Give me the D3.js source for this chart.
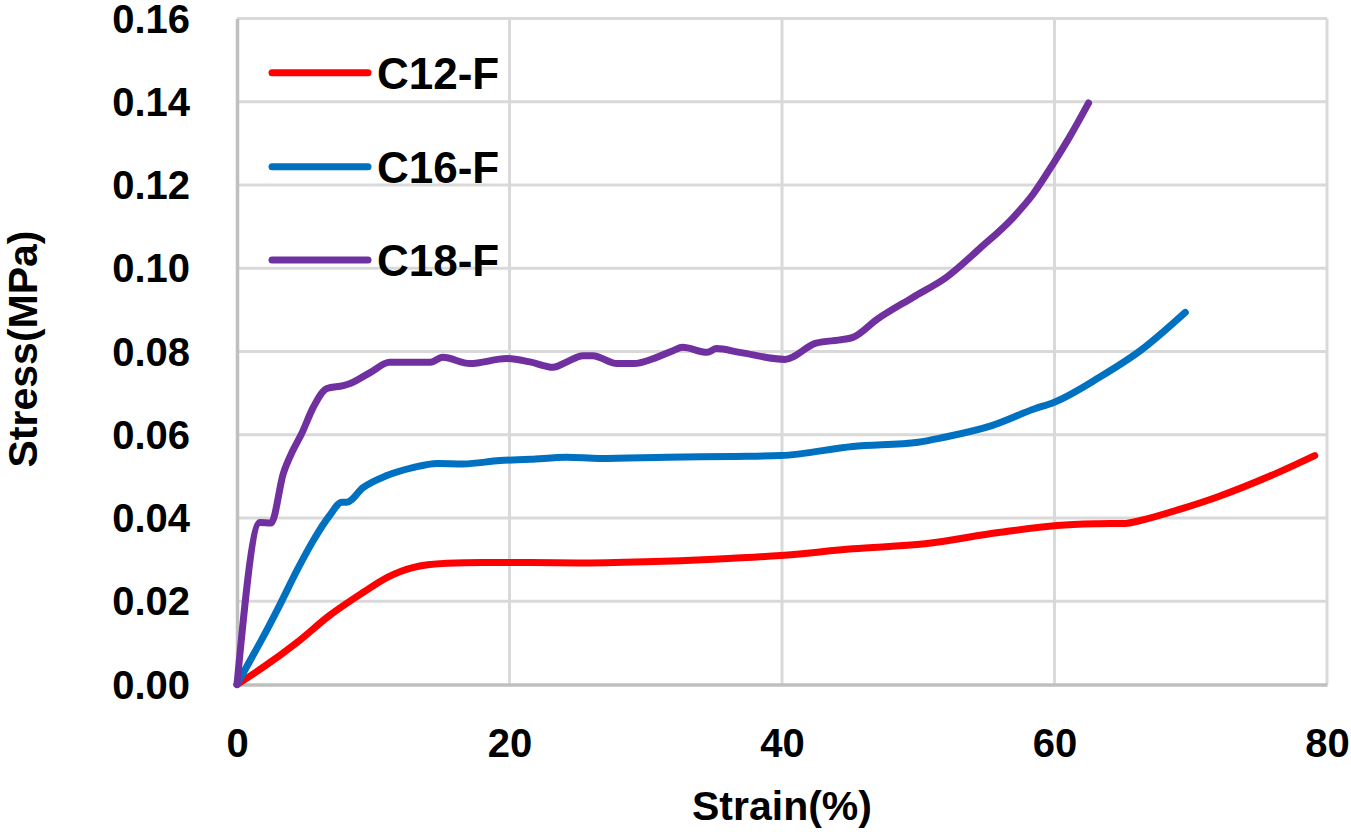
<!DOCTYPE html>
<html>
<head>
<meta charset="utf-8">
<script src="https://cdn.jsdelivr.net/npm/d3@7"></script>
<style>
  body { margin: 0; background: #fff; }
  svg text { font-family: "Liberation Sans", Arial, sans-serif; font-weight: bold; fill: #000; }
</style>
</head>
<body>
<div id="chart"></div>
<script>
// Data
//

var x_ticks = [0, 20, 40, 60, 80];
var y_ticks = [0, 0.02, 0.04, 0.06, 0.08, 0.10, 0.12, 0.14, 0.16];

var series_names = ["C12-F", "C16-F", "C18-F"];
var series_colors = ["#ff0000", "#0070c0", "#7030a0"];

var c12_strain = [0, 1.9, 4.4, 6.8, 9.25, 11, 12.9, 15.4, 18, 21.5, 25, 30, 35, 39.9,
  45.2, 50.5, 55.9, 60.2, 63, 65.2, 66.3, 69.3, 71.9, 75.9, 79.1];
var c12_stress = [0, 0.0041, 0.0101, 0.0166, 0.0221, 0.0257, 0.0281, 0.0291, 0.0293, 0.0293,
  0.0292, 0.0295, 0.0301, 0.031, 0.0326, 0.0338, 0.0365, 0.0382, 0.0386, 0.0387, 0.0394,
  0.0422, 0.045, 0.0502, 0.055];

var c16_strain = [0, 0.7, 1.9, 3.2, 4.4, 5.6, 6.8, 7.7, 8.05, 9.25, 11, 12.9, 14.7, 16.6,
  19.3, 21.5, 24.2, 26.6, 31.6, 36.4, 39.9, 45.2, 50, 51.9, 55.4, 58.6, 59.9, 63.3, 66.3, 69.6];
var c16_stress = [0, 0.0042, 0.0113, 0.0195, 0.0274, 0.0346, 0.0406, 0.0438, 0.0438, 0.0473,
  0.0502, 0.0521, 0.0531, 0.053, 0.0538, 0.0541, 0.0546, 0.0543, 0.0546, 0.0548, 0.055,
  0.0572, 0.0582, 0.0594, 0.0622, 0.0663, 0.0677, 0.0738, 0.0802, 0.0894];

var c18_strain = [0, 1.69, 2.5, 3.4, 4.1, 4.75, 5.6, 6.6, 7.8, 8.3, 9.8, 11.2, 14.2, 15.1,
  17.1, 19.8, 21.5, 23.2, 24.2, 25.4, 26.1, 27.9, 29.1, 30.8, 32, 32.7, 34.5, 35.2, 36.9,
  40.2, 42.5, 44.5, 45.2, 47, 49.6, 52.1, 54.5, 57, 58.45, 59.9, 61.1, 62.5];
var c18_stress = [0, 0.0389, 0.0388, 0.0507, 0.0562, 0.0603, 0.0666, 0.0711, 0.0718, 0.0723,
  0.075, 0.0774, 0.0774, 0.0786, 0.0771, 0.0783, 0.0775, 0.0762, 0.0775, 0.079, 0.079,
  0.0771, 0.0771, 0.0786, 0.0802, 0.081, 0.0798, 0.0807, 0.0798, 0.0781, 0.082, 0.0829,
  0.0834, 0.0878, 0.093, 0.0979, 0.1047, 0.1123, 0.1179, 0.1251, 0.1315, 0.1397];

// Helper functions
//

function zip_points(xs, ys) {
  // returns [[x, y], ...]
  return xs.map(function(x, i) { return [x, ys[i]]; });
}

// Chart
//

var width = 1351;
var height = 832;

var series = [
  { name: series_names[0], color: series_colors[0], points: zip_points(c12_strain, c12_stress) },
  { name: series_names[1], color: series_colors[1], points: zip_points(c16_strain, c16_stress) },
  { name: series_names[2], color: series_colors[2], points: zip_points(c18_strain, c18_stress) }
];

var svg = d3.select("#chart").append("svg")
  .attr("width", width)
  .attr("height", height);

var x_scale = d3.scaleLinear()
  .domain([0, 80])
  .range([237, 1327]);

var y_scale = d3.scaleLinear()
  .domain([0, 0.16])
  .range([684.5, 18.5]);

// grid lines
var grid = svg.append("g");
grid.selectAll("line.h")
  .data(y_ticks.slice(1))
  .enter().append("line")
  .attr("x1", x_scale(0)).attr("x2", x_scale(80))
  .attr("y1", function(d) { return y_scale(d); })
  .attr("y2", function(d) { return y_scale(d); })
  .attr("stroke", "#d9d9d9").attr("stroke-width", 3);
grid.selectAll("line.v")
  .data(x_ticks.slice(1))
  .enter().append("line")
  .attr("y1", y_scale(0)).attr("y2", y_scale(0.16))
  .attr("x1", function(d) { return x_scale(d); })
  .attr("x2", function(d) { return x_scale(d); })
  .attr("stroke", "#d9d9d9").attr("stroke-width", 3);

// axes
var x_axis = svg.append("g")
  .attr("transform", "translate(0," + y_scale(0) + ")")
  .call(d3.axisBottom(x_scale).tickValues(x_ticks).tickSize(0).tickPadding(44)
    .tickFormat(d3.format("d")));
x_axis.select(".domain").attr("stroke", "#bfbfbf").attr("stroke-width", 3.5);
x_axis.selectAll("text").style("font-size", "40px");

var y_axis = svg.append("g")
  .attr("transform", "translate(" + x_scale(0) + ",0)")
  .call(d3.axisLeft(y_scale).tickValues(y_ticks).tickSize(0).tickPadding(47)
    .tickFormat(d3.format(".2f")));
y_axis.select(".domain").attr("stroke", "#bfbfbf").attr("stroke-width", 3.5);
y_axis.selectAll("text").style("font-size", "40px").attr("dy", "0.34em");

// axis titles
svg.append("text")
  .attr("x", 782).attr("y", 820)
  .attr("text-anchor", "middle")
  .style("font-size", "41px")
  .text("Strain(%)");

svg.append("text")
  .attr("transform", "translate(37,349) rotate(-90)")
  .attr("text-anchor", "middle")
  .style("font-size", "41px")
  .text("Stress(MPa)");

// curves
var line = d3.line()
  .x(function(d) { return x_scale(d[0]); })
  .y(function(d) { return y_scale(d[1]); })
  .curve(d3.curveMonotoneX);

svg.append("g").selectAll("path")
  .data(series)
  .enter().append("path")
  .attr("d", function(d) { return line(d.points); })
  .attr("fill", "none")
  .attr("stroke", function(d) { return d.color; })
  .attr("stroke-width", 7)
  .attr("stroke-linejoin", "round")
  .attr("stroke-linecap", "round");

// legend
var legend = svg.append("g");
var legend_y = [72.7, 166.7, 260];
var items = legend.selectAll("g")
  .data(series)
  .enter().append("g")
  .attr("transform", function(d, i) { return "translate(272," + legend_y[i] + ")"; });
items.append("line")
  .attr("x1", 0).attr("x2", 96)
  .attr("stroke", function(d) { return d.color; })
  .attr("stroke-width", 7)
  .attr("stroke-linecap", "round");
items.append("text")
  .attr("x", 105).attr("y", 16)
  .style("font-size", "44px")
  .text(function(d) { return d.name; });
</script>
</body>
</html>
